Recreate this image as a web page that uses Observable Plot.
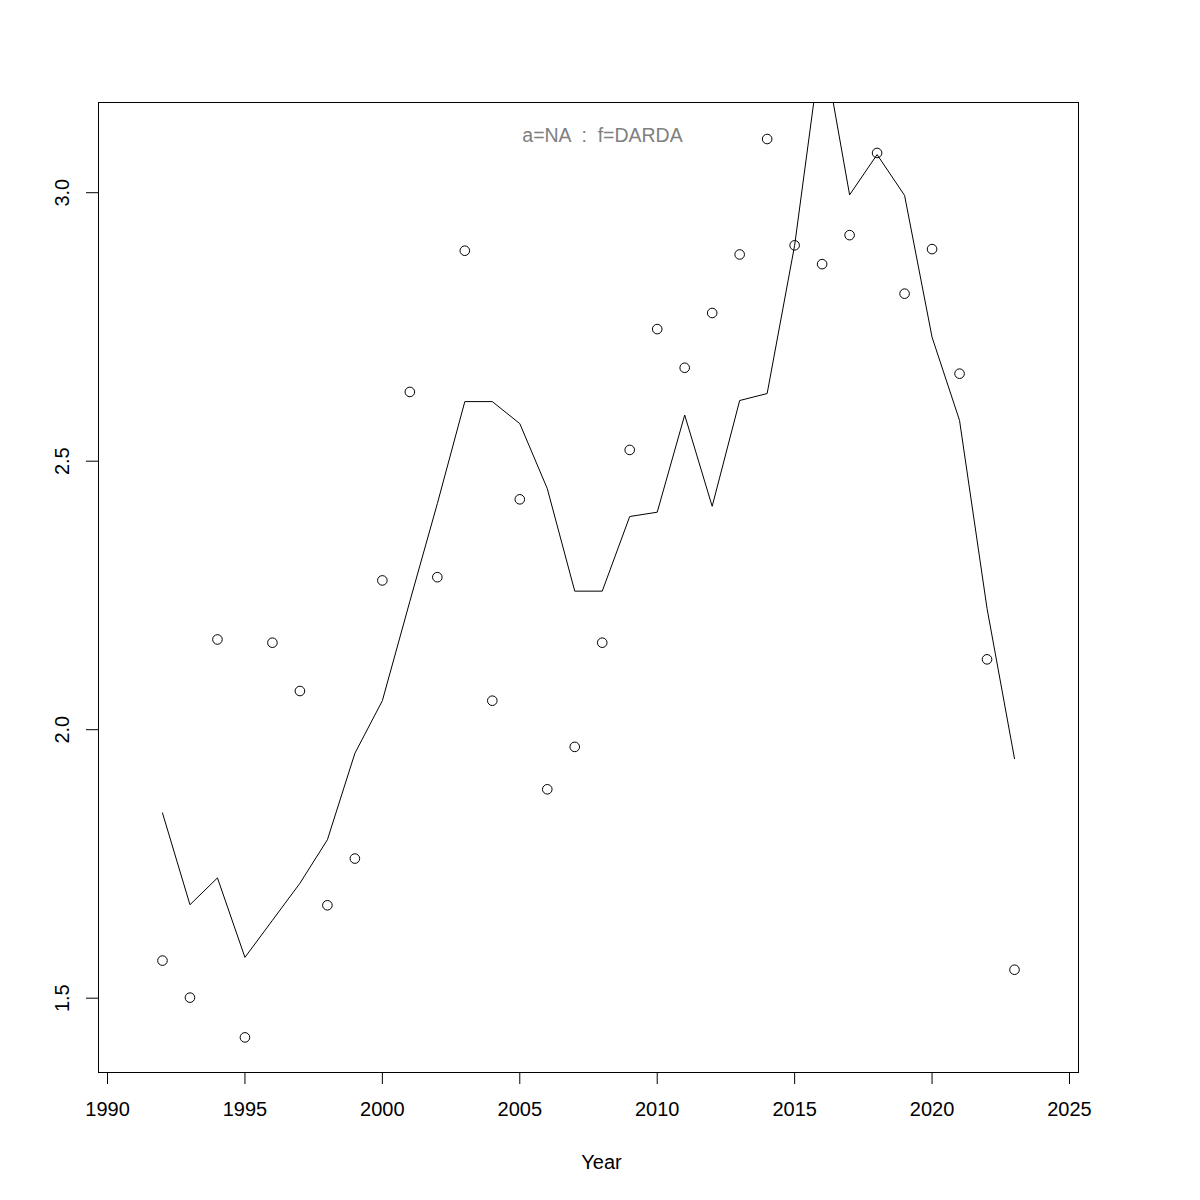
<!DOCTYPE html>
<html>
<head>
<meta charset="utf-8">
<script src="https://cdn.jsdelivr.net/npm/d3@7"></script>
<script src="https://cdn.jsdelivr.net/npm/@observablehq/plot@0.6"></script>
<style>
  html, body { margin: 0; padding: 0; background: white; }
</style>
</head>
<body>
<div id="chart"></div>
<script>
const years = [1992,1993,1994,1995,1996,1997,1998,1999,2000,2001,2002,2003,2004,2005,2006,2007,2008,2009,2010,2011,2012,2013,2014,2015,2016,2017,2018,2019,2020,2021,2022,2023];
const observed = [1.570,1.501,2.168,1.427,2.162,2.072,1.673,1.760,2.278,2.629,2.284,2.892,2.054,2.429,1.889,1.968,2.162,2.521,2.746,2.674,2.776,2.885,3.100,2.902,2.867,2.921,3.074,2.812,2.895,2.663,2.131,1.553];
const fitted = [1.845,1.674,1.724,1.576,1.645,1.714,1.795,1.956,2.054,2.239,2.421,2.611,2.611,2.570,2.449,2.258,2.258,2.397,2.405,2.586,2.416,2.613,2.626,2.902,3.285,2.996,3.071,2.995,2.731,2.576,2.226,1.946];
const xTicks = [1990,1995,2000,2005,2010,2015,2020,2025];
const yTicks = [1.5,2.0,2.5,3.0];
const titleText = "a=NA  :  f=DARDA";
const xLabel = "Year";

const data = years.map((year, i) => ({year, obs: observed[i], fit: fitted[i]}));

const chart = Plot.plot({
  width: 1200,
  height: 1200,
  marginLeft: 98,
  marginRight: 122,
  marginTop: 102,
  marginBottom: 128,
  style: {fontFamily: "'Liberation Sans', Arial, Helvetica, sans-serif", fontSize: "20px", background: "white", color: "black"},
  x: {type: "linear", domain: [1989.672, 2025.328]},
  y: {type: "linear", domain: [1.3616, 3.168]},
  marks: [
    Plot.frame({stroke: "black", strokeWidth: 1}),
    Plot.line(data, {x: "year", y: "fit", stroke: "black", strokeWidth: 1, clip: true}),
    Plot.dot(data, {x: "year", y: "obs", r: 4.8, stroke: "black", strokeWidth: 1, fill: "none"}),
    Plot.axisX({ticks: xTicks, tickSize: 12, tickPadding: 25, lineAnchor: "middle", fontSize: 20, tickFormat: d3.format("d"), label: null, stroke: "black"}),
    Plot.axisY({ticks: yTicks, tickSize: 12, tickPadding: 24, tickRotate: -90, textAnchor: "middle", lineAnchor: "middle", fontSize: 20, tickFormat: d3.format(".1f"), label: null, stroke: "black"}),
    Plot.text([titleText], {frameAnchor: "top", dx: 14, dy: 26, fill: "#808080", fontSize: 19.5}),
    Plot.text([xLabel], {frameAnchor: "bottom", dx: 13, dy: 96, fill: "black", fontSize: 20})
  ]
});
document.getElementById("chart").appendChild(chart);
</script>
</body>
</html>
